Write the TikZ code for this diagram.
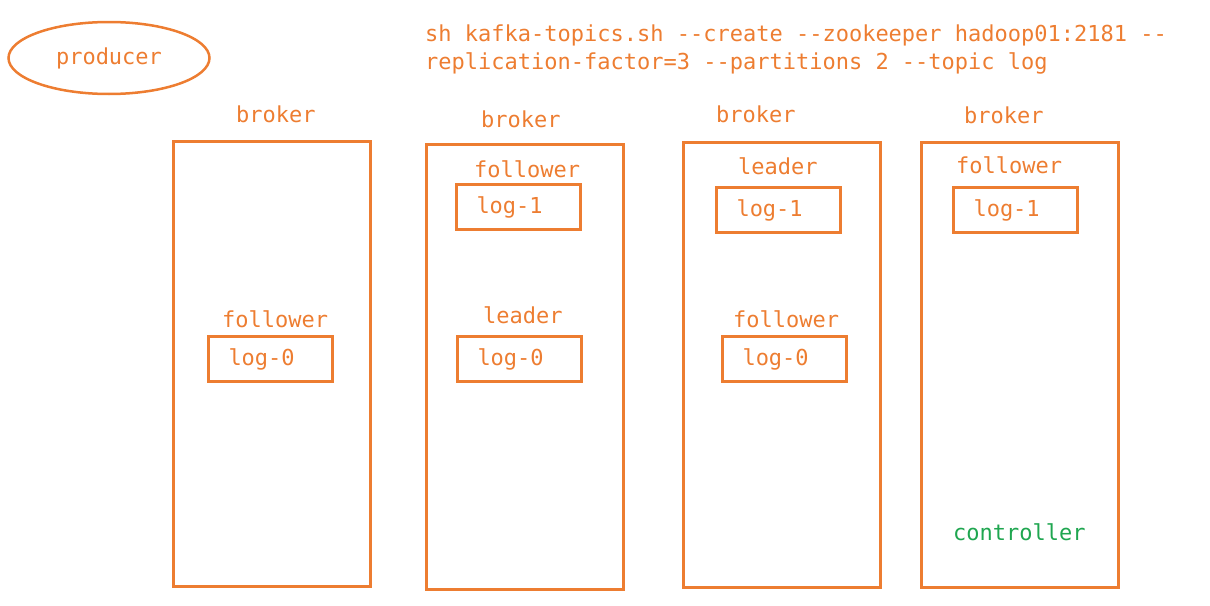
\documentclass[tikz,border=0pt]{standalone}
\usepackage{fontspec}
\setmonofont{DejaVu Sans Mono}
\usepackage{xcolor}
\usetikzlibrary{positioning,shapes.geometric}
\definecolor{kafkaorange}{HTML}{ED7D31}
\definecolor{ctrlgreen}{HTML}{1FA650}

\begin{document}
\begin{tikzpicture}[
    x=1pt, y=-1pt,
    font=\ttfamily\fontsize{22}{26}\selectfont,
    every node/.style={text=kafkaorange},
    broker/.style={draw=kafkaorange, line width=3pt, minimum width=197pt, minimum height=445pt, inner sep=0pt, anchor=north west},
    logbox/.style={draw=kafkaorange, line width=3pt, minimum height=45pt, text width=84pt, inner xsep=20pt, inner ysep=0pt, align=left, anchor=north west},
    lbl/.style={inner sep=0pt, anchor=base west}
]
    \useasboundingbox (0,0) rectangle (1210,605);

    % producer and the create command
    \node[ellipse, draw=kafkaorange, line width=2.5pt, minimum width=201pt, minimum height=72pt, inner sep=0pt] (prod) at (109,58) {producer};
    \node[lbl] (cmd1) at (425,41) {sh kafka-topics.sh --create --zookeeper hadoop01:2181 --};
    \node[lbl] (cmd2) at (425,69) {replication-factor=3 --partitions 2 --topic log};

    % brokers
    \node[broker] (b1) at (172,140) {};
    \node[broker] (b2) at (425,143) {};
    \node[broker] (b3) at (682,141) {};
    \node[broker] (b4) at (920,141) {};
    \node[lbl] (b1name) at (236,122) {broker};
    \node[lbl] (b2name) at (481,127) {broker};
    \node[lbl] (b3name) at (716,122) {broker};
    \node[lbl] (b4name) at (964,123) {broker};

    % broker 1
    \node[lbl] (b1role0) at (222,327) {follower};
    \node[logbox] (b1log0) at (207,335) {log-0};

    % broker 2
    \node[lbl] (b2role1) at (474,177) {follower};
    \node[logbox] (b2log1) at (455,183) {log-1};
    \node[lbl] (b2role0) at (483,323) {leader};
    \node[logbox] (b2log0) at (456,335) {log-0};

    % broker 3
    \node[lbl] (b3role1) at (738,174) {leader};
    \node[logbox] (b3log1) at (715,186) {log-1};
    \node[lbl] (b3role0) at (733,327) {follower};
    \node[logbox] (b3log0) at (721,335) {log-0};

    % broker 4
    \node[lbl] (b4role1) at (956,173) {follower};
    \node[logbox] (b4log1) at (952,186) {log-1};
    \node[lbl, text=ctrlgreen] (ctrl) at (953,540) {controller};
\end{tikzpicture}
\end{document}
